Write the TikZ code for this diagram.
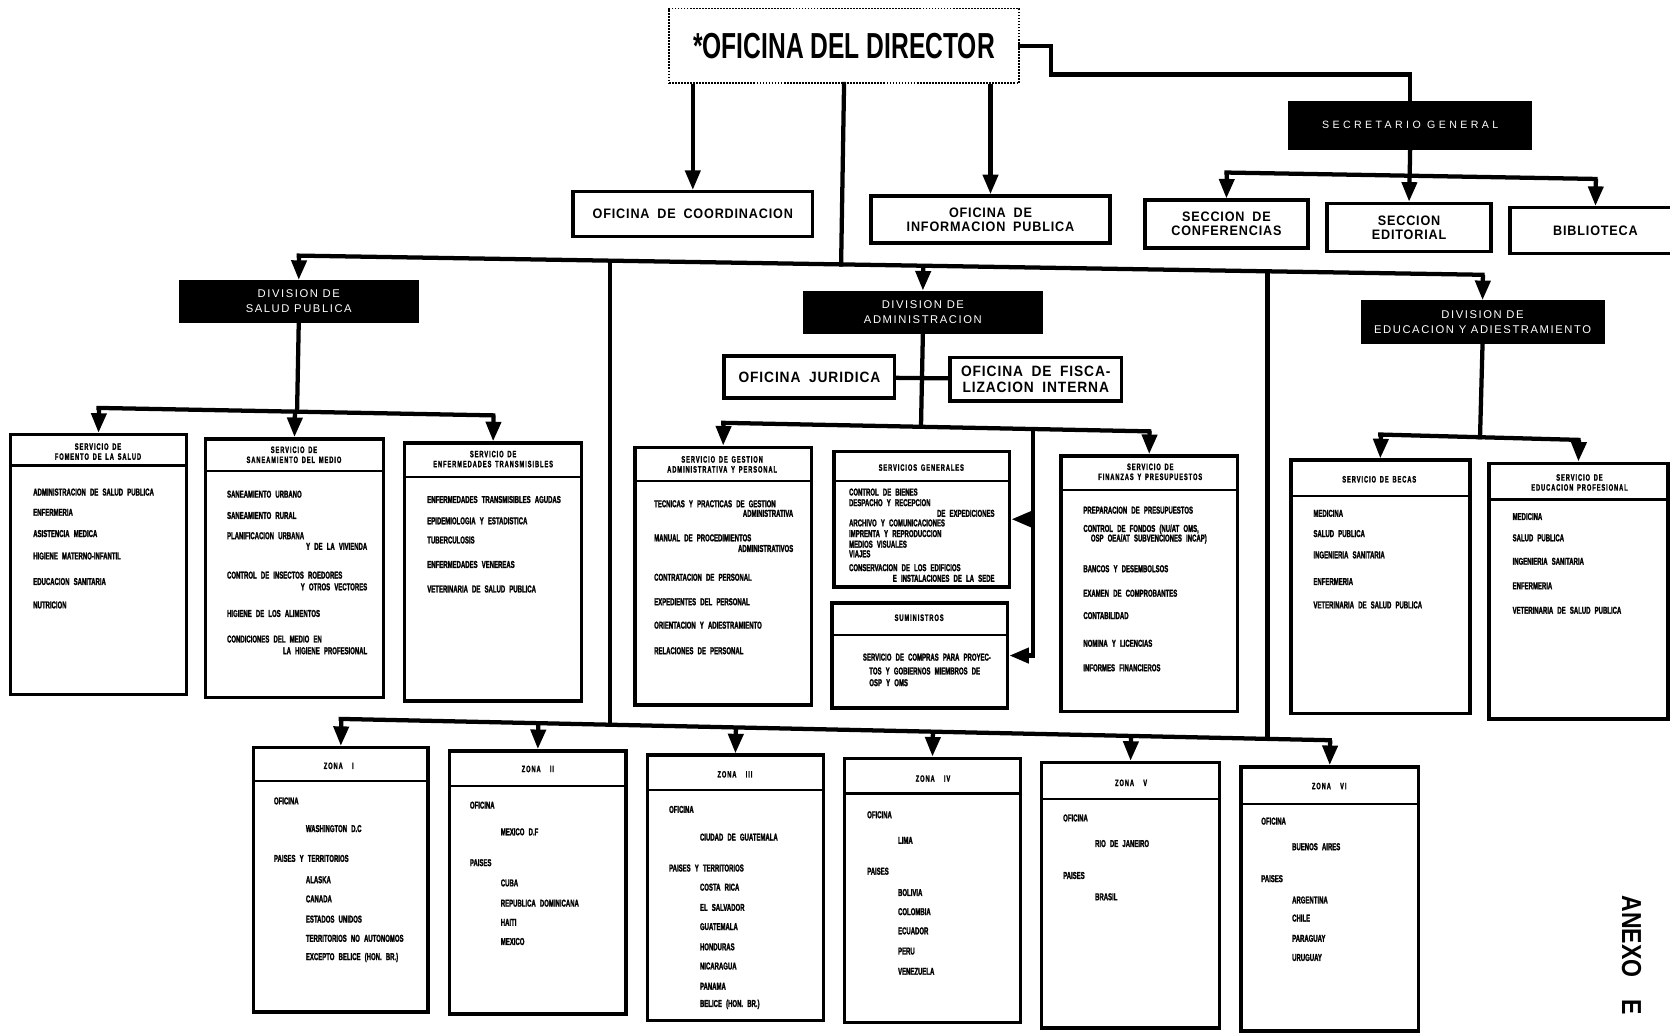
\documentclass[tikz,border=0pt]{standalone}
\usepackage{fontspec}
\setmainfont{Liberation Sans}
\newfontfamily\condfont[FakeStretch=0.6,WordSpace=2.5,FakeBold=1.8]{Liberation Sans}
\newfontfamily\hdrfont[FakeStretch=0.62,LetterSpace=10,WordSpace=1.5,FakeBold=1.6]{Liberation Sans}
\newfontfamily\medfont[FakeStretch=0.92,LetterSpace=6,WordSpace=1.8]{Liberation Sans}
\newfontfamily\bigfont[FakeStretch=0.68]{Liberation Sans}
\newfontfamily\anexofont[FakeStretch=0.84]{Liberation Sans}
\newfontfamily\thinfont[LetterSpace=14]{Liberation Sans}
\newfontfamily\widefont[LetterSpace=32]{Liberation Sans}
\usetikzlibrary{arrows.meta,fit,calc}

\newcommand\svcfont{\condfont\bfseries\fontsize{8}{8}\selectfont}
\newcommand\headfont{\hdrfont\bfseries\fontsize{7.4}{8}\selectfont}

\tikzset{
  wire/.style={line width=0.12cm,line cap=rect},
  feed/.style={line width=0.12cm,-{Triangle[width=0.42cm,length=0.55cm]}},
  box/.style={draw,line width=0.1cm,inner sep=0pt},
  office/.style={box,align=center,font=\medfont\bfseries\fontsize{11}{11.2}\selectfont},
  divbox/.style={fill=black,draw=black,inner sep=0pt,text=white,align=center,font=\thinfont\fontsize{9}{12}\selectfont},
  headline/.style={line width=0.06cm},
  svchead/.style={inner sep=0pt,align=center,font=\headfont},
  svcitem/.style={inner sep=0pt,anchor=west,font=\svcfont},
  svcitemr/.style={inner sep=0pt,anchor=east,font=\svcfont}
}

\begin{document}
\begin{tikzpicture}[x=0.03cm,y=-0.03cm]
\useasboundingbox (0,0) rectangle (1568,970);
\fill[white] (0,0) rectangle (1568,970);

% Director and staff offices
\node[draw,densely dotted,line width=0.05cm,minimum width=9.87cm,minimum height=2.1cm,font=\bigfont\bfseries\fontsize{29}{30}\selectfont] (dir) at (792.5,43) {*OFICINA DEL DIRECTOR};
\node[office,minimum width=6.75cm,minimum height=1.26cm] (coord) at (650.5,201) {OFICINA DE COORDINACION};
\node[office,minimum width=6.72cm,minimum height=1.32cm] (info) at (930,206) {OFICINA DE\\INFORMACION PUBLICA};
\node[divbox,minimum width=6.84cm,minimum height=1.35cm,font=\widefont\fontsize{8.5}{10}\selectfont] (sec) at (1324,117.5) {SECRETARIO GENERAL};
\node[office,minimum width=4.59cm,minimum height=1.35cm] (conf) at (1151.5,210.5) {SECCION DE\\CONFERENCIAS};
\node[office,minimum width=4.62cm,minimum height=1.35cm] (edit) at (1323,213.5) {SECCION\\EDITORIAL};
\node[office,minimum width=4.8cm,minimum height=1.29cm] (bibl) at (1498,216.5) {BIBLIOTECA};

% Divisions
\node[divbox,minimum width=6.75cm,minimum height=1.2cm] (salud) at (280.5,283) {DIVISION DE\\SALUD PUBLICA};
\node[divbox,minimum width=6.75cm,minimum height=1.2cm] (admin) at (866.5,293) {DIVISION DE\\ADMINISTRACION};
\node[divbox,minimum width=6.84cm,minimum height=1.2cm] (educ) at (1392,302) {DIVISION DE\\EDUCACION Y ADIESTRAMIENTO};
\node[office,minimum width=4.8cm,minimum height=1.17cm,font=\medfont\bfseries\fontsize{12}{13}\selectfont] (jur) at (760,354) {OFICINA JURIDICA};
\node[office,minimum width=4.83cm,minimum height=1.23cm,font=\medfont\bfseries\fontsize{12}{13}\selectfont] (fis) at (972.5,356) {OFICINA DE FISCA-\\LIZACION INTERNA};

% Services and zones, with the rule under each heading
\foreach \n/\xa/\ya/\xb/\yb/\h in {fomento/10/408/175/652/437, saneam/193/412/360/655/442,
    enftr/380/416/546/658/448, gestion/596/420/762/662/452, sg/783/424/948/551/452,
    sum/781/566/946/665/596, finan/996/428/1162/668/460, becas/1212/432/1380/670/466,
    edprof/1398/435/1566/675/469, zona1/238/702/402/950/733, zona2/422/705/588/952/738,
    zona3/608/709/773/958/742, zona4/793/712/958/960/745, zona5/978/716/1145/965/750,
    zona6/1165/720/1332/968/755}{
  \node[box,fit={(\xa,\ya) (\xb,\yb)}] (\n) {};
  \draw[headline] (\xa,\h) -- (\xb,\h);
}

% Director links
\draw[feed] (dir.south -| coord.north) -- (coord.north);
\draw[feed] (dir.south -| info.north) -- (info.north);
\coordinate (bend) at (987,70);
\draw[wire] (dir.east) -| (bend) -| (sec.north);

% Secretario general
\coordinate (cL) at (conf.north |- 0,162);
\coordinate (cR) at (bibl.north |- 0,168);
\draw[wire] (cL) -- (cR);
\draw[wire] (sec.south) -- ($(cL)!(sec.south)!(cR)$);
\foreach \n in {conf,edit,bibl}
  \draw[feed] ($(cL)!(\n.north)!(cR)$) -- (\n.north);

% Division bar
\coordinate (dL) at (salud.north |- 0,240);
\coordinate (dR) at (educ.north |- 0,258);
\draw[wire] (dL) -- (dR);
\draw[wire] (dir.south) -- ($(dL)!(dir.south)!(dR)$);
\foreach \n in {salud,admin,educ}
  \draw[feed] ($(dL)!(\n.north)!(dR)$) -- (\n.north);

% Zone bar
\coordinate (zL) at (zona1.north |- 0,675);
\coordinate (zR) at (zona6.north |- 0,695);
\draw[wire] (zL) -- (zR);
\coordinate (aTop) at (573,245);
\coordinate (aBot) at (573,680);
\coordinate (bTop) at (1190,255);
\coordinate (bBot) at (1190,694);
\draw[wire] (aTop) -- (aBot);
\draw[wire] (bTop) -- (bBot);
\foreach \n in {zona1,zona2,zona3,zona4,zona5,zona6}
  \draw[feed] ($(zL)!(\n.north)!(zR)$) -- (\n.north);

% Salud publica
\coordinate (sL) at (fomento.north |- 0,383);
\coordinate (sR) at (enftr.north |- 0,390);
\draw[wire] (sL) -- (sR);
\draw[wire] (salud.south) -- ($(sL)!(salud.south)!(sR)$);
\foreach \n in {fomento,saneam,enftr}
  \draw[feed] ($(sL)!(\n.north)!(sR)$) -- (\n.north);

% Administracion
\draw[wire] (jur) -- (fis);
\coordinate (aL) at (gestion.north |- 0,397);
\coordinate (aR) at (finan.north |- 0,405);
\draw[wire] (aL) -- (aR);
\draw[wire] (admin.south) -- ($(aL)!(admin.south)!(aR)$);
\foreach \n in {gestion,finan}
  \draw[feed] ($(aL)!(\n.north)!(aR)$) -- (\n.north);
\coordinate (branch) at (970,403);
\draw[feed] (branch) -- (sum.east -| branch) -- (sum.east);
\draw[feed] (sg.east -| branch) -- (sg.east);

% Educacion y adiestramiento
\coordinate (eL) at (becas.north |- 0,408);
\coordinate (eR) at (edprof.north |- 0,413);
\draw[wire] (eL) -- (eR);
\draw[wire] (educ.south) -- ($(eL)!(educ.south)!(eR)$);
\foreach \n in {becas,edprof}
  \draw[feed] ($(eL)!(\n.north)!(eR)$) -- (\n.north);

% Headings
\node[svchead] at (92,424) {SERVICIO DE\\FOMENTO DE LA SALUD};
\node[svchead] at (276,427) {SERVICIO DE\\SANEAMIENTO DEL MEDIO};
\node[svchead] at (463,431) {SERVICIO DE\\ENFERMEDADES TRANSMISIBLES};
\node[svchead] at (678,436) {SERVICIO DE GESTION\\ADMINISTRATIVA Y PERSONAL};
\node[svchead] at (865,439) {SERVICIOS GENERALES};
\node[svchead] at (863,580) {SUMINISTROS};
\node[svchead] at (1080,443) {SERVICIO DE\\FINANZAS Y PRESUPUESTOS};
\node[svchead] at (1295,450) {SERVICIO DE BECAS};
\node[svchead] at (1483,453) {SERVICIO DE\\EDUCACION PROFESIONAL};
\foreach \x/\y/\t in {318/719/I, 505/722/II, 690/727/III, 876/731/IV, 1062/735/V, 1248/738/VI}
  \node[svchead] at (\x,\y) {ZONA\quad\t};

% Salud publica services
\foreach \y/\t in {462/ADMINISTRACION DE SALUD PUBLICA, 481/ENFERMERIA, 501/ASISTENCIA MEDICA,
    522/HIGIENE MATERNO-INFANTIL, 546/EDUCACION SANITARIA, 568/NUTRICION}
  \node[svcitem] at (31,\y) {\t};
\foreach \y/\t in {464/SANEAMIENTO URBANO, 484/SANEAMIENTO RURAL, 503/PLANIFICACION URBANA,
    540/CONTROL DE INSECTOS ROEDORES, 576/HIGIENE DE LOS ALIMENTOS, 600/CONDICIONES DEL MEDIO EN}
  \node[svcitem] at (213,\y) {\t};
\foreach \y/\t in {513/Y DE LA VIVIENDA, 551/Y OTROS VECTORES, 611/LA HIGIENE PROFESIONAL}
  \node[svcitemr] at (345,\y) {\t};
\foreach \y/\t in {469/ENFERMEDADES TRANSMISIBLES AGUDAS, 489/EPIDEMIOLOGIA Y ESTADISTICA,
    507/TUBERCULOSIS, 530/ENFERMEDADES VENEREAS, 553/VETERINARIA DE SALUD PUBLICA}
  \node[svcitem] at (401,\y) {\t};

% Administracion services
\foreach \y/\t in {473/TECNICAS Y PRACTICAS DE GESTION, 505/MANUAL DE PROCEDIMIENTOS,
    542/CONTRATACION DE PERSONAL, 565/EXPEDIENTES DEL PERSONAL,
    587/ORIENTACION Y ADIESTRAMIENTO, 611/RELACIONES DE PERSONAL}
  \node[svcitem] at (614,\y) {\t};
\node[svcitemr] at (745,482) {ADMINISTRATIVA};
\node[svcitemr] at (745,515) {ADMINISTRATIVOS};
\foreach \y/\t in {462/CONTROL DE BIENES, 472/DESPACHO Y RECEPCION, 491/ARCHIVO Y COMUNICACIONES,
    501/IMPRENTA Y REPRODUCCION, 511/MEDIOS VISUALES, 520/VIAJES, 533/CONSERVACION DE LOS EDIFICIOS}
  \node[svcitem] at (797,\y) {\t};
\node[svcitemr] at (934,482) {DE EXPEDICIONES};
\node[svcitemr] at (934,543) {E INSTALACIONES DE LA SEDE};
\node[svcitem] at (810,617) {SERVICIO DE COMPRAS PARA PROYEC-};
\node[svcitem] at (816,630) {TOS Y GOBIERNOS MIEMBROS DE};
\node[svcitem] at (816,641) {OSP Y OMS};
\node[svcitem] at (1017,479) {PREPARACION DE PRESUPUESTOS};
\node[svcitem] at (1017,497) {CONTROL DE FONDOS (NU/AT OMS,};
\node[svcitem] at (1024,506) {OSP OEA/AT SUBVENCIONES INCAP)};
\foreach \y/\t in {534/BANCOS Y DESEMBOLSOS, 557/EXAMEN DE COMPROBANTES, 578/CONTABILIDAD,
    604/NOMINA Y LICENCIAS, 627/INFORMES FINANCIEROS}
  \node[svcitem] at (1017,\y) {\t};

% Educacion services
\foreach \y/\t in {482/MEDICINA, 501/SALUD PUBLICA, 521/INGENIERIA SANITARIA, 546/ENFERMERIA,
    568/VETERINARIA DE SALUD PUBLICA}
  \node[svcitem] at (1233,\y) {\t};
\foreach \y/\t in {485/MEDICINA, 505/SALUD PUBLICA, 527/INGENIERIA SANITARIA, 550/ENFERMERIA,
    573/VETERINARIA DE SALUD PUBLICA}
  \node[svcitem] at (1420,\y) {\t};

% Zones
\foreach \x/\y/\t in {257/752/OFICINA, 287/778/WASHINGTON D.C, 257/806/PAISES Y TERRITORIOS,
    287/826/ALASKA, 287/844/CANADA, 287/863/ESTADOS UNIDOS, 287/881/TERRITORIOS NO AUTONOMOS,
    287/899/EXCEPTO BELICE (HON. BR.)}
  \node[svcitem] at (\x,\y) {\t};
\foreach \x/\y/\t in {441/756/OFICINA, 470/781/MEXICO D.F, 441/810/PAISES, 470/829/CUBA,
    470/848/REPUBLICA DOMINICANA, 470/866/HAITI, 470/884/MEXICO}
  \node[svcitem] at (\x,\y) {\t};
\foreach \x/\y/\t in {628/760/OFICINA, 657/786/CIUDAD DE GUATEMALA, 628/815/PAISES Y TERRITORIOS,
    657/833/COSTA RICA, 657/852/EL SALVADOR, 657/870/GUATEMALA, 657/889/HONDURAS,
    657/907/NICARAGUA, 657/926/PANAMA, 657/943/BELICE (HON. BR.)}
  \node[svcitem] at (\x,\y) {\t};
\foreach \x/\y/\t in {814/765/OFICINA, 843/789/LIMA, 814/818/PAISES, 843/838/BOLIVIA,
    843/856/COLOMBIA, 843/874/ECUADOR, 843/893/PERU, 843/912/VENEZUELA}
  \node[svcitem] at (\x,\y) {\t};
\foreach \x/\y/\t in {998/768/OFICINA, 1028/792/RIO DE JANEIRO, 998/822/PAISES, 1028/842/BRASIL}
  \node[svcitem] at (\x,\y) {\t};
\foreach \x/\y/\t in {1184/771/OFICINA, 1213/795/BUENOS AIRES, 1184/825/PAISES, 1213/845/ARGENTINA,
    1213/862/CHILE, 1213/881/PARAGUAY, 1213/899/URUGUAY}
  \node[svcitem] at (\x,\y) {\t};

% Annex mark
\node[rotate=-90,inner sep=0pt,font=\anexofont\bfseries\fontsize{22}{22}\selectfont] (anexo) at (1532,897) {ANEXO\hspace{0.62cm}E};
\end{tikzpicture}
\end{document}
